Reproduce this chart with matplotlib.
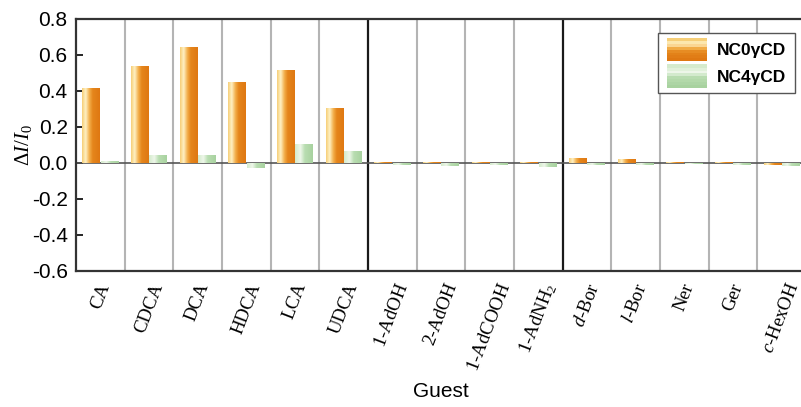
import numpy as np
import matplotlib
matplotlib.use("Agg")
import matplotlib.pyplot as plt
from matplotlib.colors import LinearSegmentedColormap
from matplotlib.legend_handler import HandlerBase
from matplotlib.patches import Rectangle

plt.rcParams['font.family'] = ['Liberation Sans', 'DejaVu Sans']
plt.rcParams['mathtext.fontset'] = 'custom'
plt.rcParams['mathtext.rm'] = 'Liberation Serif'
plt.rcParams['mathtext.it'] = 'Liberation Serif:italic'

guests = ["CA", "CDCA", "DCA", "HDCA", "LCA", "UDCA",
          r"$\mathit{1}$-AdOH", "2-AdOH", r"$\mathit{1}$-AdCOOH", r"$\mathit{1}$-AdNH$_2$",
          r"$d$-Bor", r"$l$-Bor", "Ner", "Ger", r"$c$-HexOH"]
nc0 = [0.417, 0.537, 0.646, 0.450, 0.514, 0.305,
       0.003, 0.003, 0.003, 0.003, 0.030, 0.025, 0.008, 0.003, -0.010]
nc4 = [0.013, 0.044, 0.043, -0.030, 0.107, 0.068,
       -0.010, -0.015, -0.010, -0.020, -0.012, -0.010, -0.008, -0.010, -0.015]
series = ["NC0\u03b3CD", "NC4\u03b3CD"]

orange = LinearSegmentedColormap.from_list(
    "orange", [(0, "#f6cf78"), (0.2, "#fff1c4"), (0.42, "#f2ad48"),
               (0.6, "#e5861c"), (1, "#df7812")])
green = LinearSegmentedColormap.from_list(
    "green", [(0, "#d5ebcd"), (0.3, "#eef7ea"), (0.55, "#b9ddb1"), (1, "#a8d29f")])


class GradientHandler(HandlerBase):
    def __init__(self, cmap, n=8):
        super().__init__()
        self.cmap = cmap
        self.n = n

    def create_artists(self, legend, orig_handle, xdescent, ydescent,
                       width, height, fontsize, trans):
        y0 = -ydescent - height * 0.35
        h = height * 1.6
        step = h / self.n
        out = []
        for k in range(self.n):
            c = self.cmap(1 - k / (self.n - 1))
            out.append(Rectangle((-xdescent, y0 + k * step), width, step + 0.3,
                                 facecolor=c, edgecolor="none", transform=trans))
        return out


fig = plt.figure(figsize=(8.01, 4.07), dpi=100)
ax = fig.add_axes([76 / 801, 136 / 407, 730 / 801, 252 / 407])

x = np.arange(len(guests))
w = 0.36
grad = np.linspace(0, 1, 64).reshape(1, -1)
handles = []
for vals, off, cmap, name in [(nc0, -0.19, orange, series[0]), (nc4, 0.19, green, series[1])]:
    bars = ax.bar(x + off, vals, w, facecolor="none", edgecolor="none", zorder=3, label=name)
    for p in bars.patches:
        x0, y0 = p.get_x(), p.get_y()
        im = ax.imshow(grad, extent=[x0, x0 + p.get_width(), y0, y0 + p.get_height()],
                       aspect="auto", cmap=cmap, zorder=3, interpolation="bilinear")
        im.set_clip_path(p)
    handles.append(bars)

ax.set_xlim(-0.5, len(guests) - 0.5)
ax.set_ylim(-0.6, 0.8)
ax.set_aspect("auto")

# category separators, darker ones between guest families
for i in range(len(guests) - 1):
    if i in (5, 9):
        ax.axvline(i + 0.5, color="#1a1a1a", lw=1.6, zorder=2)
    else:
        ax.axvline(i + 0.5, color="#b4b4b4", lw=1.5, zorder=1)
ax.axhline(0, color="#555555", lw=1.2, zorder=2)

for s in ax.spines.values():
    s.set_color("#333333")
    s.set_linewidth(1.6)

ax.set_yticks(np.arange(-0.6, 0.81, 0.2))
ax.set_yticklabels([f"{v:.1f}" for v in np.arange(-0.6, 0.81, 0.2)])
ax.tick_params(axis="y", direction="in", length=5, width=1.2, labelsize=15, pad=6)
ax.set_xticks(x)
ax.set_xticklabels(guests, rotation=69, ha="center", va="top",
                   fontfamily="Liberation Serif", fontsize=13.5)
ax.tick_params(axis="x", length=0, pad=7)

ax.set_ylabel(r"$\Delta I/I_0$", fontsize=15, labelpad=-2)
ax.set_xlabel("Guest", fontsize=15, labelpad=6)

leg = ax.legend(handles=handles, labels=series, loc="upper right",
                bbox_to_anchor=(0.985, 0.944), borderaxespad=0, fancybox=False,
                edgecolor="#555555", framealpha=1, prop={"weight": "bold", "size": 12.5},
                handlelength=2.3, handleheight=0.9, handletextpad=0.6,
                borderpad=0.5, labelspacing=0.6,
                handler_map={handles[0]: GradientHandler(orange),
                             handles[1]: GradientHandler(green)})
leg.get_frame().set_linewidth(1.0)

fig.savefig("out.png", dpi=100)
